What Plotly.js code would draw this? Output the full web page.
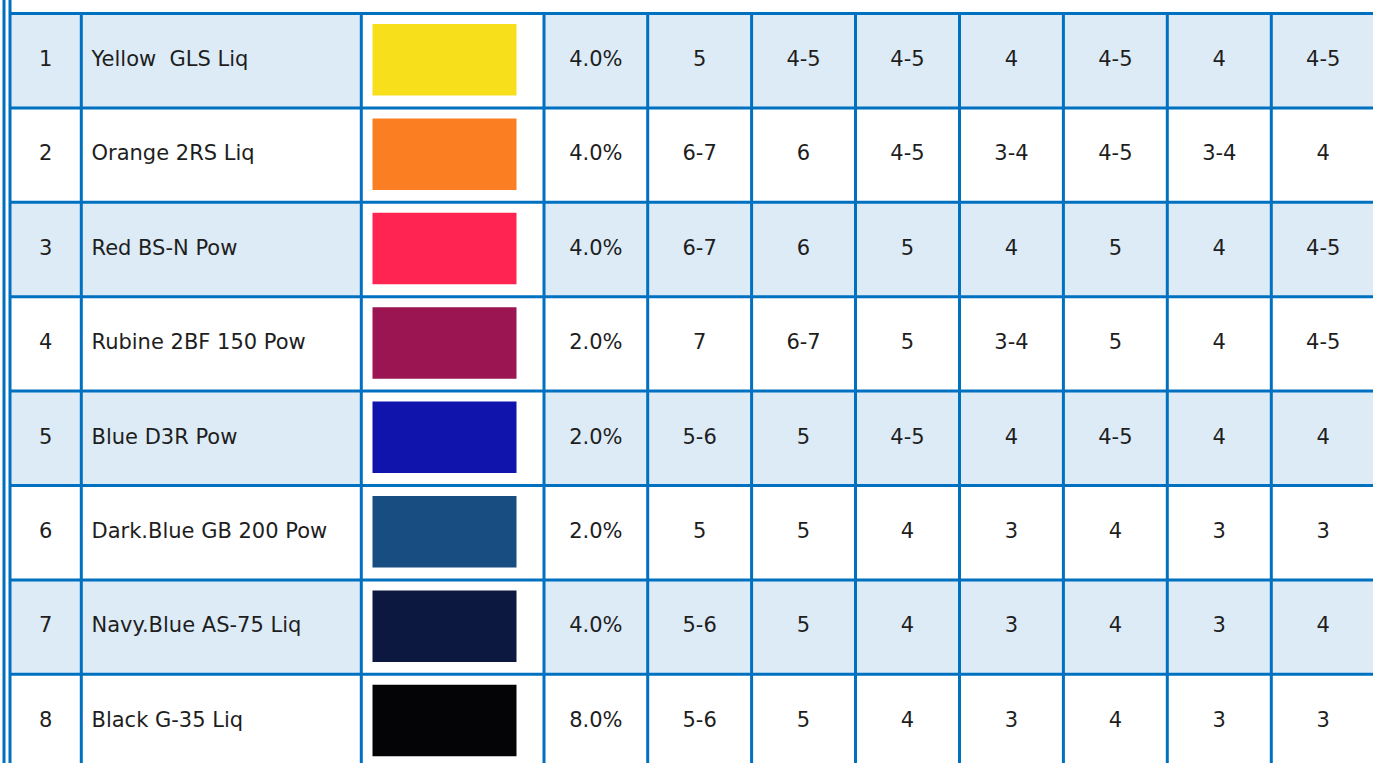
<!DOCTYPE html>
<html>
<head>
<meta charset="utf-8">
<script src="https://cdn.plot.ly/plotly-3.0.1.min.js"></script>
<style>
html,body{margin:0;padding:0;background:#ffffff;overflow:hidden;}
#chart{width:1373px;height:763px;}
</style>
</head>
<body>
<div id="chart"></div>
<script>
// ---------- DATA ----------
const rowNumbers = ["1","2","3","4","5","6","7","8"];
const dyeNames = ["Yellow  GLS Liq","Orange 2RS Liq","Red BS-N Pow","Rubine 2BF 150 Pow","Blue D3R Pow","Dark.Blue GB 200 Pow","Navy.Blue AS-75 Liq","Black G-35 Liq"];
const swatchColors = ["#F8DF1C","#FC7E22","#FF2452","#9A1552","#1013AC","#174D80","#0C1840","#040406"];
const concentrations = ["4.0%","4.0%","4.0%","2.0%","2.0%","2.0%","4.0%","8.0%"];
const fastnessA = ["5","6-7","6-7","7","5-6","5","5-6","5-6"];
const fastnessB = ["4-5","6","6","6-7","5","5","5","5"];
const fastnessC = ["4-5","4-5","5","5","4-5","4","4","4"];
const fastnessD = ["4","3-4","4","3-4","4","3","3","3"];
const fastnessE = ["4-5","4-5","5","5","4-5","4","4","4"];
const fastnessF = ["4","3-4","4","4","4","3","3","3"];
const fastnessG = ["4-5","4","4-5","4-5","4","3","4","3"];

// ---------- LAYOUT CONSTANTS ----------
const W = 1373, H = 763;
const colEdges = [10, 81.3, 361.3, 544, 647.7, 751.6, 855.5, 959.5, 1063.4, 1167.3, 1271.3, 1375.2];
const outerLeft = 4;
const TOP = 13.5, PITCH = 94.4;
const LINE = "#0070C0", LW = 3;
const BAND = "#DDEBF7";
const TEXT = "#1e1e1e";
const FONT = "DejaVu Sans, Verdana, sans-serif";
const FS = 21;
const swatchX0 = 372.5, swatchX1 = 516.5, swatchInset = 10.5, swatchH = 71.5;
const nameX = 91.5;

const nRows = rowNumbers.length;
const rowTop = i => TOP + i * PITCH;
const rowMid = i => TOP + (i + 0.5) * PITCH;

const shapes = [];
// banded fills (odd rows), all columns except swatch column (index 2)
for (let i = 0; i < nRows; i++) {
  if (i % 2 !== 0) continue;
  for (let c = 0; c < colEdges.length - 1; c++) {
    if (c === 2) continue;
    shapes.push({type:"rect", xref:"x", yref:"y", layer:"below",
      x0: colEdges[c], x1: colEdges[c+1], y0: rowTop(i), y1: rowTop(i) + PITCH,
      fillcolor: BAND, line: {width: 0}});
  }
}
// swatches
for (let i = 0; i < nRows; i++) {
  shapes.push({type:"rect", xref:"x", yref:"y", layer:"below",
    x0: swatchX0, x1: swatchX1, y0: rowTop(i) + swatchInset, y1: rowTop(i) + swatchInset + swatchH,
    fillcolor: swatchColors[i], line: {width: 0}});
}
// horizontal lines
for (let i = 0; i <= nRows; i++) {
  shapes.push({type:"line", xref:"x", yref:"y", layer:"below",
    x0: colEdges[0], x1: colEdges[colEdges.length-1], y0: rowTop(i), y1: rowTop(i),
    line: {color: LINE, width: LW}});
}
// vertical lines within table
for (let c = 1; c < colEdges.length; c++) {
  shapes.push({type:"line", xref:"x", yref:"y", layer:"below",
    x0: colEdges[c], x1: colEdges[c], y0: rowTop(0), y1: rowTop(nRows),
    line: {color: LINE, width: LW}});
}
// double left border, full height
[outerLeft, colEdges[0]].forEach(x => {
  shapes.push({type:"line", xref:"x", yref:"y", layer:"below",
    x0: x, x1: x, y0: -10, y1: H + 10, line: {color: LINE, width: LW}});
});

const ys = rowNumbers.map((_, i) => rowMid(i));
const colMid = c => (colEdges[c] + colEdges[c+1]) / 2;
const textTrace = (xArr, txt, pos) => ({
  type: "scatter", mode: "text", x: xArr, y: ys, text: txt,
  textposition: pos, textfont: {family: FONT, size: FS, color: TEXT},
  hoverinfo: "skip", showlegend: false, cliponaxis: false
});
const centered = (c, arr) => textTrace(arr.map(() => colMid(c)), arr, "middle center");

const data = [
  centered(0, rowNumbers),
  textTrace(dyeNames.map(() => nameX), dyeNames, "middle right"),
  centered(3, concentrations),
  centered(4, fastnessA),
  centered(5, fastnessB),
  centered(6, fastnessC),
  centered(7, fastnessD),
  centered(8, fastnessE),
  centered(9, fastnessF),
  centered(10, fastnessG)
];

const layout = {
  width: W, height: H,
  margin: {l:0, r:0, t:0, b:0, pad:0},
  paper_bgcolor: "#ffffff", plot_bgcolor: "#ffffff",
  xaxis: {range: [0, W], visible: false, fixedrange: true},
  yaxis: {range: [H, 0], visible: false, fixedrange: true},
  shapes: shapes,
  showlegend: false,
  hovermode: false
};

Plotly.newPlot("chart", data, layout, {staticPlot: true, displayModeBar: false});
</script>
</body>
</html>
